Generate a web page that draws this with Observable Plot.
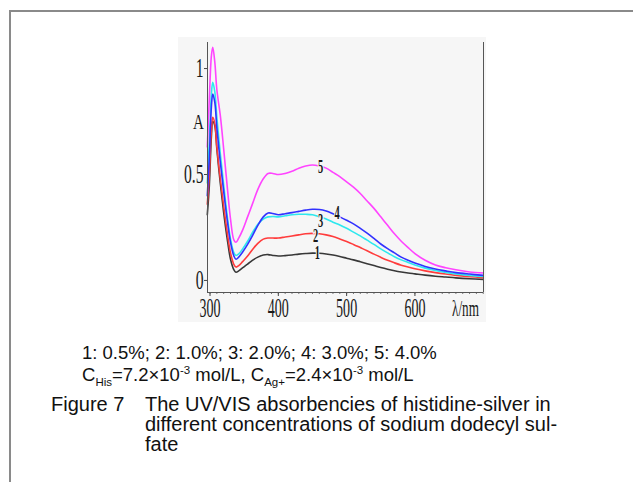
<!DOCTYPE html>
<html>
<head>
<meta charset="utf-8">
<script src="https://cdn.jsdelivr.net/npm/d3@7"></script>
<script src="https://cdn.jsdelivr.net/npm/@observablehq/plot@0.6"></script>
<style>
html, body { margin: 0; padding: 0; background: #fff; width: 633px; height: 482px; overflow: hidden; }
body { position: relative; font-family: "Liberation Sans", Arial, sans-serif; }
#frame { position: absolute; left: 9px; top: 10px; width: 700px; height: 600px; border-top: 2px solid #8a8a8a; border-left: 2px solid #8a8a8a; }
#chart { position: absolute; left: 178px; top: 37px; }
.cap { position: absolute; line-height: 20px; color: #111; white-space: nowrap; }
.leg { font-size: 18.5px; }
.fig { font-size: 20px; }
.cap sub, .cap sup { font-size: 11.5px; line-height: 0; }
</style>
</head>
<body>
<div id="frame"></div>
<div id="chart"></div>
<div class="cap leg" id="legend" style="left:82px;top:343px"></div>
<div class="cap leg" style="left:82px;top:365px">C<sub>His</sub>=7.2×10<sup>-3</sup> mol/L, C<sub>Ag+</sub>=2.4×10<sup>-3</sup> mol/L</div>
<div class="cap fig" style="left:51px;top:394px">Figure 7</div>
<div class="cap fig" style="left:145px;top:394px">The UV/VIS absorbencies of histidine-silver in<br>different concentrations of sodium dodecyl sul-<br>fate</div>
<script>
// ---- data ----
const seriesIds = ["1", "2", "3", "4", "5"];
const sdsConc = ["0.5%", "1.0%", "2.0%", "3.0%", "4.0%"];
const seriesColors = ["#383838", "#ff3c3c", "#2ee8ee", "#3232ff", "#ff44ff"];

const wavelength = [296, 299, 302, 304, 307, 310, 315, 320, 325, 330, 335, 338, 342, 348, 355, 362, 370, 378, 385, 392, 400, 410, 420, 430, 440, 450, 460, 470, 480, 490, 500, 510, 520, 530, 540, 550, 560, 570, 580, 590, 600, 615, 630, 645, 660, 680, 700];

const series1 = [0.31, 0.45, 0.68, 0.75, 0.73, 0.62, 0.46, 0.32, 0.20, 0.10, 0.05, 0.039, 0.045, 0.06, 0.077, 0.095, 0.11, 0.12, 0.122, 0.118, 0.115, 0.117, 0.12, 0.124, 0.127, 0.129, 0.128, 0.125, 0.12, 0.113, 0.105, 0.097, 0.088, 0.079, 0.07, 0.061, 0.053, 0.046, 0.04, 0.035, 0.031, 0.025, 0.02, 0.016, 0.012, 0.008, 0.005];
const series2 = [0.36, 0.50, 0.71, 0.77, 0.74, 0.63, 0.48, 0.35, 0.23, 0.13, 0.075, 0.063, 0.07, 0.09, 0.115, 0.145, 0.175, 0.195, 0.20, 0.20, 0.20, 0.205, 0.21, 0.215, 0.22, 0.222, 0.22, 0.215, 0.207, 0.196, 0.184, 0.17, 0.155, 0.14, 0.124, 0.109, 0.095, 0.083, 0.072, 0.063, 0.055, 0.045, 0.037, 0.03, 0.024, 0.018, 0.013];
const series3 = [0.46, 0.66, 0.88, 0.935, 0.89, 0.77, 0.60, 0.45, 0.31, 0.195, 0.13, 0.118, 0.125, 0.15, 0.185, 0.225, 0.265, 0.29, 0.30, 0.302, 0.30, 0.305, 0.31, 0.312, 0.312, 0.31, 0.30, 0.29, 0.275, 0.262, 0.246, 0.228, 0.21, 0.19, 0.17, 0.149, 0.13, 0.112, 0.097, 0.085, 0.073, 0.058, 0.047, 0.038, 0.031, 0.024, 0.019];
const series4 = [0.40, 0.58, 0.82, 0.88, 0.84, 0.72, 0.56, 0.42, 0.29, 0.18, 0.115, 0.10, 0.11, 0.135, 0.17, 0.21, 0.26, 0.30, 0.318, 0.316, 0.31, 0.315, 0.32, 0.326, 0.332, 0.336, 0.335, 0.328, 0.315, 0.30, 0.284, 0.267, 0.246, 0.223, 0.198, 0.172, 0.15, 0.13, 0.11, 0.095, 0.082, 0.066, 0.054, 0.045, 0.037, 0.03, 0.024];
const series5 = [0.63, 0.86, 1.06, 1.10, 1.03, 0.90, 0.78, 0.62, 0.45, 0.29, 0.19, 0.18, 0.20, 0.24, 0.30, 0.36, 0.43, 0.48, 0.505, 0.505, 0.50, 0.505, 0.515, 0.53, 0.54, 0.545, 0.54, 0.53, 0.51, 0.49, 0.465, 0.44, 0.41, 0.375, 0.34, 0.30, 0.26, 0.22, 0.185, 0.155, 0.127, 0.095, 0.073, 0.06, 0.05, 0.04, 0.035];

// curve number labels (placed on the curves)
const labelNm = [457, 454.5, 461.8, 486.2, 461.8];
const labelA = [0.127, 0.2075, 0.278, 0.317, 0.534];

const xTicks = [300, 400, 500, 600];
const xMinorTicks = d3.range(300, 701, 10);
const yTicks = [0, 0.5, 1];
const yTickLabels = ["0", "0.5", "1"];
const xDomain = [296.3, 700.4];
const yDomain = [-0.057, 1.123];

// ---- build ----
document.getElementById("legend").textContent = seriesIds.map((s, i) => `${s}: ${sdsConc[i]}`).join("; ");

const allSeries = [series1, series2, series3, series4, series5];
const curveMarks = allSeries.map((vals, k) =>
  Plot.line(vals.map((a, i) => ({nm: wavelength[i], A: a})), {
    x: "nm", y: "A", stroke: seriesColors[k], strokeWidth: 1.6, curve: "catmull-rom"
  })
);
const labelRows = seriesIds.map((s, i) => ({nm: labelNm[i], A: labelA[i], t: s}));

const bg = "#f6f6f6";
const chart = Plot.plot({
  width: 308, height: 285,
  marginLeft: 29, marginRight: 3, marginTop: 5, marginBottom: 30,
  style: {background: bg, fontFamily: "'Liberation Serif', 'DejaVu Serif', serif", color: "#1a1a1a", overflow: "visible"},
  x: {domain: xDomain},
  y: {domain: yDomain},
  marks: [
    Plot.axisX({ticks: xMinorTicks, tickSize: 2, tickFormat: () => "", label: null, stroke: "#777"}),
    Plot.axisX({ticks: xTicks, tickSize: 4, tickPadding: 1, fontSize: 27, label: null, stroke: "#444"}),
    Plot.axisY({ticks: yTicks, tickSize: 3, tickPadding: 1, fontSize: 27, label: null, tickFormat: (d) => yTickLabels[yTicks.indexOf(d)], stroke: "#444"}),
    ...curveMarks,
    Plot.ruleX(xDomain, {stroke: "#555", strokeWidth: 1}),
    Plot.ruleY([yDomain[0]], {stroke: "#555", strokeWidth: 1}),
    Plot.text(labelRows, {x: "nm", y: "A", text: "t", fontSize: 18, fontWeight: "bold", fill: "#1a1a1a", stroke: bg, strokeWidth: 3}),
    Plot.text(["A"], {frameAnchor: "top-left", dx: -9, dy: 80, textAnchor: "middle", lineAnchor: "middle", fontSize: 21, fill: "#1a1a1a"}),
    Plot.text(["λ/nm"], {frameAnchor: "bottom-right", dx: -18, dy: 16, textAnchor: "middle", lineAnchor: "middle", fontSize: 24, fill: "#1a1a1a"})
  ]
});
document.getElementById("chart").appendChild(chart);

// condensed serif look of the original figure lettering
const squeezeAxis = {"x-axis tick label": 0.52, "y-axis tick label": 0.58};
const squeezeText = {"A": 0.72, "λ/nm": 0.55};
chart.querySelectorAll("text").forEach((t) => {
  const g = t.closest("g[aria-label]");
  const lab = g ? g.getAttribute("aria-label") : "";
  let f = squeezeAxis[lab];
  if (!f && lab === "text") f = squeezeText[t.textContent] || 0.58;
  if (!f) return;
  const tr = t.getAttribute("transform") || "";
  t.setAttribute("transform", tr + ` scale(${f},1)`);
});
</script>
</body>
</html>
